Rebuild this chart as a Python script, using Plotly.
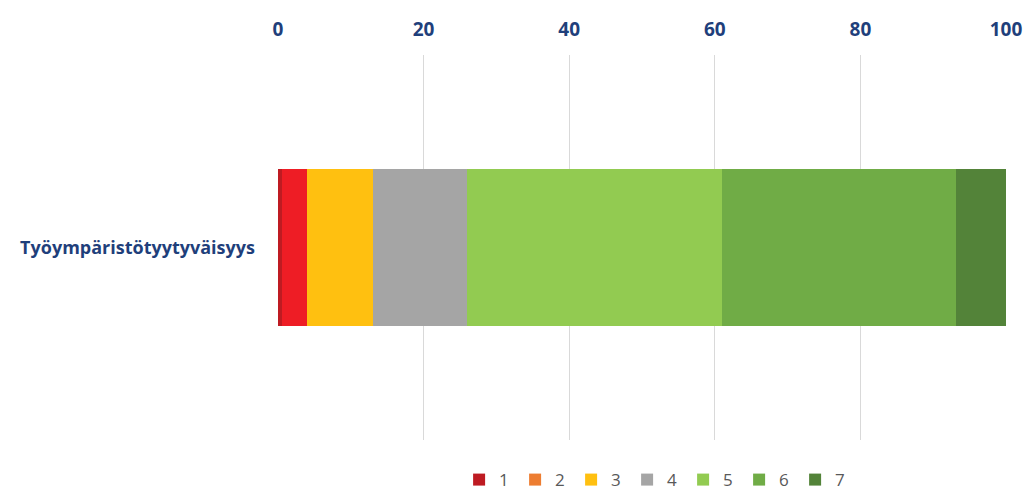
import plotly.graph_objects as go

categories = ["Työympäristötyytyväisyys"]
series_names = ["1", "2", "3", "4", "5", "6", "7"]
values_1 = [0.6]
values_2 = [3.4]
values_3 = [9.1]
values_4 = [12.8]
values_5 = [35.1]
values_6 = [32.1]
values_7 = [6.9]
x_ticks = [0, 20, 40, 60, 80, 100]

series_values = [values_1, values_2, values_3, values_4, values_5, values_6, values_7]
bar_colors = ["#BE1B22", "#EE1D25", "#FFC010", "#A5A5A5", "#92CB51", "#70AC46", "#538339"]
legend_colors = ["#BE1B22", "#ED7D31", "#FFC010", "#A5A5A5", "#92CB51", "#70AC46", "#538339"]

fig = go.Figure()
for name, vals, col in zip(series_names, series_values, bar_colors):
    fig.add_trace(go.Bar(
        y=categories, x=vals, name=name, orientation="h",
        marker=dict(color=col, line=dict(width=0)),
        showlegend=False, legendgroup=name,
    ))
for name, col in zip(series_names, legend_colors):
    fig.add_trace(go.Bar(
        y=categories, x=[0], name=name, orientation="h",
        marker=dict(color=col, line=dict(width=0)),
        showlegend=True, legendgroup=name, hoverinfo="skip",
    ))

fig.update_layout(
    barmode="stack",
    bargap=0.592,
    width=1027, height=491,
    margin=dict(l=278, r=21, t=55, b=51, autoexpand=False),
    plot_bgcolor="white", paper_bgcolor="white",
    font=dict(family="Open Sans, sans-serif"),
    xaxis=dict(
        side="top", range=[0, 100], tickvals=x_ticks,
        showgrid=True, gridcolor="#D9D9D9", gridwidth=1,
        zeroline=False, showline=False, automargin=False,
        tickfont=dict(size=19, color="#1F3F7B", family="Open Sans, sans-serif", weight="bold"),
        ticklabelstandoff=14,
    ),
    yaxis=dict(
        showgrid=False, zeroline=False, showline=False, automargin=False,
        tickfont=dict(size=18, color="#1F3F7B", family="Open Sans, sans-serif", weight="bold"),
        ticklabelstandoff=22,
    ),
    legend=dict(
        orientation="h", x=0.518, xanchor="center", y=-0.104, yanchor="middle",
        font=dict(size=17, color="#595959"),
        traceorder="normal", entrywidth=11, entrywidthmode="pixels",
        itemclick=False, itemdoubleclick=False,
    ),
    showlegend=True,
)

fig.write_html(
    "out.html",
    config={"displayModeBar": False},
    post_script="document.body.style.margin='0';document.body.style.overflow='hidden';",
)
